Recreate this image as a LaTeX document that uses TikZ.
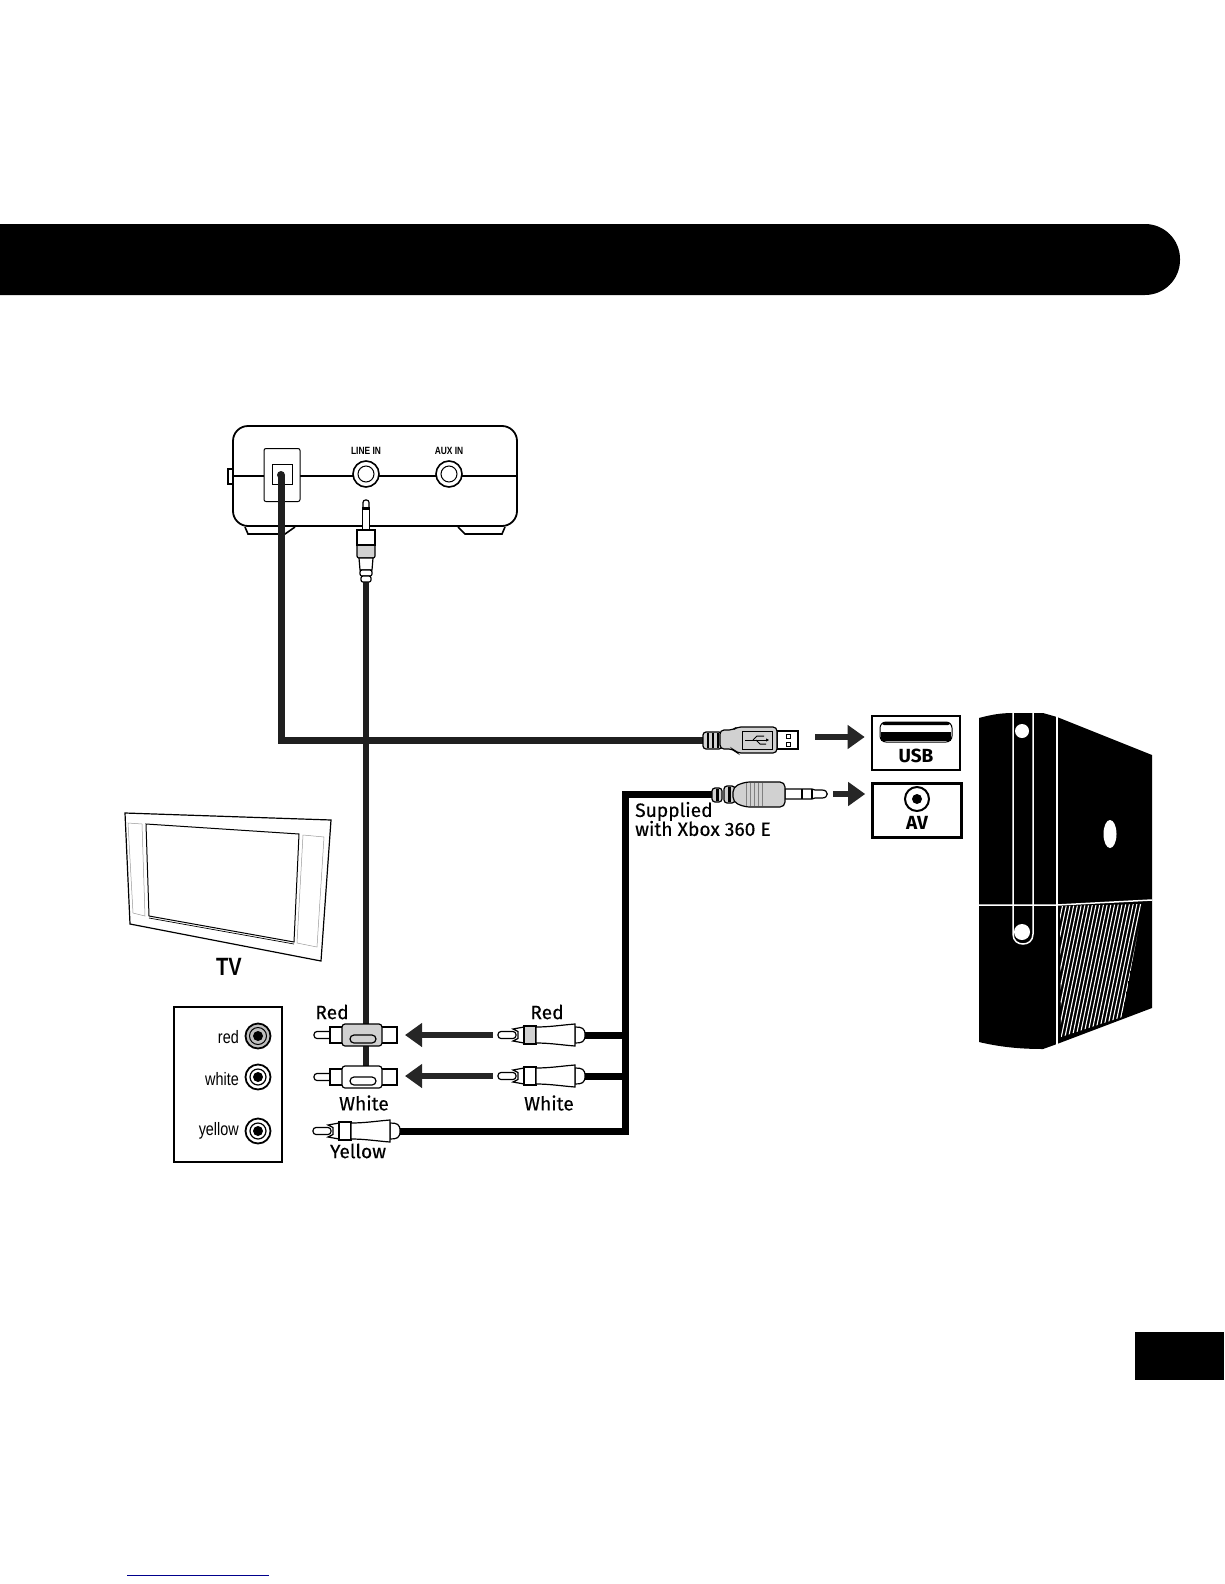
\documentclass[tikz,border=0pt]{standalone}
\usepackage{fontspec}
\setmainfont{Fira Sans}
\newfontfamily\narrowfont[FakeStretch=0.8]{Liberation Sans}
\usetikzlibrary{arrows.meta,positioning}
\definecolor{navyline}{RGB}{0,0,140}

\begin{document}
\begin{tikzpicture}[
    x=1pt, y=-1pt,
    every node/.style={inner sep=0pt},
    textlabel/.style={font=\fontsize{19.2}{21}\selectfont\addfontfeature{FakeBold=0.4}},
    portlabel/.style={font=\fontsize{19}{21}\selectfont\bfseries},
    tvlabel/.style={font=\narrowfont\fontsize{18}{20}\selectfont, anchor=east},
    devlabel/.style={font=\narrowfont\bfseries\fontsize{10.5}{12}\selectfont},
    portbox/.style={draw, line width=2.6pt, minimum width=88pt, minimum height=54pt},
    jackring/.style={circle, draw, line width=1.6pt, fill=white, minimum size=26pt},
    jackhole/.style={circle, draw, line width=1pt, fill=white, minimum size=16pt},
    socketring/.style={circle, draw, line width=1.8pt, fill=#1, minimum size=25pt},
    sockethole/.style={circle, draw, fill=white, line width=1.2pt, minimum size=16pt},
    socketdot/.style={circle, fill=black, minimum size=10pt},
    cable/.style={line width=7pt},
    darkcable/.style={line width=7pt, draw=black!88},
    thincable/.style={line width=6.5pt, draw=black!88},
    flow/.style={-{Triangle[length=17pt, width=23pt]}, line width=6.5pt, draw=black!85},
    part/.style={draw, line width=1.2pt, fill=white},
    gridline/.style={draw=black!40, line width=.5pt},
    rcaplug/.pic={
        \draw[part, rounded corners=3pt] (0,-3.5) rectangle (18,3.5);
        \draw[part] (15,-6) -- (26,-8) -- (26,8) -- (15,6) -- (20,3.5) -- (20,-3.5) -- cycle;
        \draw[part, fill=#1] (26,-9) rectangle (38,9);
        \draw[part] (77,-8) .. controls (84,-8) and (87,-7) .. (87,0) .. controls (87,7) and (84,8) .. (77,8) -- cycle;
        \draw[part] (38,-8) .. controls (52,-8) and (64,-10) .. (77,-11) -- (77,11) .. controls (64,10) and (52,8) .. (38,8) -- cycle;
    },
    coupler/.pic={
        \draw[part, rounded corners=3pt] (0,-3.5) rectangle (18,3.5);
        \draw[part] (16,-8) rectangle (30,8);
        \draw[part] (66,-8) rectangle (83,8);
        \draw[part, fill=#1, rounded corners=3pt] (28,-11) rectangle (68,11);
        \draw[part, fill=#1, rounded corners=4pt] (36,0) rectangle (62,8);
    }
]
\useasboundingbox (0,0) rectangle (1224,1584);
% title band and page tab
\fill[rounded corners=35pt] (0,224) -- (1180,224) -- (1180,295) -- (0,295);
\fill (1135,1332) rectangle (1224,1380);
\draw[navyline, line width=1pt] (127,1575) -- (269,1575);

% sound bar rear panel
\draw[line width=1.5pt] (228,469) rectangle (233,484);
\draw[line width=1.6pt] (245,527) -- (248,534) -- (285,534) -- (295,527);
\draw[line width=1.6pt] (458,527) -- (465,534) -- (502,534) -- (505,527);
\draw[line width=1.8pt, fill=white, rounded corners=15pt] (233,476) -- (233,426) -- (517,426) -- (517,526) -- (233,526) -- cycle;
\draw[line width=1.8pt] (233,476) -- (517,476);
\node[draw, fill=white, line width=1pt, rounded corners=2pt, minimum width=36pt, minimum height=53pt] (opticalbox) at (282,475) {};
\node[draw, fill=white, line width=1pt, minimum width=20pt, minimum height=20pt] (opticalport) at (282,474) {};
\node[jackring] (linein) at (366,474) {};
\node[jackhole] at (linein) {};
\node[jackring] (auxin) at (449,474) {};
\node[jackhole] at (auxin) {};
\node[devlabel, above=6pt of linein] (lineinlabel) {LINE IN};
\node[devlabel, above=5.5pt of auxin] (auxinlabel) {AUX IN};

% cables
\coordinate (usbsocket) at (281,475);
\coordinate (usbstrain) at (705,740);
\coordinate (minijackend) at (366,578);
\coordinate (couplerend) at (366,1066);
\coordinate (avstrain) at (714,794);
\coordinate (avcorner) at (625,1131);
\coordinate (yellowend) at (400,1131);
\coordinate (redend) at (584,1035);
\coordinate (whiteend) at (584,1076);
\fill[black!88] (usbsocket) circle[radius=4];
\draw[darkcable] (usbsocket) |- (usbstrain);
\draw[thincable] (minijackend) -- (couplerend);
\draw[cable] (avstrain) -| (avcorner) -- (yellowend);
\draw[cable] (redend) -- (redend -| avcorner);
\draw[cable] (whiteend) -- (whiteend -| avcorner);

% 3.5 mm plug into line in
\draw[part, rounded corners=2.5pt] (363,500) rectangle (369,512);
\draw[part] (362.5,508) rectangle (369.5,530);
\draw[line width=2pt] (362,509) -- (370,509);
\draw[part, fill=black!18, rounded corners=2pt] (357,530) rectangle (375,558);
\draw[part] (357,530) rectangle (375,545);
\draw[part] (359,558) -- (373,558) -- (372,570) -- (360,570) -- cycle;
\draw[part, rounded corners=2pt] (360,570) rectangle (372,576);
\draw[part, rounded corners=2pt] (361,576) rectangle (371,582);

% usb plug
\draw[part, fill=black!18, rounded corners=3pt] (703,732) rectangle (722,749);
\foreach \x in {708,713,718} \draw[line width=1.2pt] (\x,733) -- (\x,748);
\draw[part] (777,731) rectangle (798,749);
\draw[line width=.8pt] (786,734) rectangle (790,738);
\draw[line width=.8pt] (786,742) rectangle (790,746);
\draw[part, fill=black!18, rounded corners=4pt] (720,730) -- (733,730) -- (737,727) -- (777,727) -- (777,753) -- (737,753) -- (733,749) -- (720,749) -- cycle;
\draw[line width=.8pt] (742,731) rectangle (772,749);
\draw[line width=1pt, -{Triangle[length=3pt, width=3pt]}] (745,740) -- (769,740);
\draw[line width=1pt] (753,740) -- (757,736) -- (764,736);
\draw[line width=1pt] (756,740) -- (760,744) -- (766,744);

% av plug
\draw[part, fill=black!18, rounded corners=3pt] (712,788) rectangle (722,802);
\draw[part, fill=black!18, rounded corners=3pt] (724,786) rectangle (735,803);
\draw[line width=3pt] (717,789) -- (717,801);
\draw[line width=3pt] (729,787) -- (729,802);
\draw[part] (785,789) -- (812,789) -- (815,790) -- (822,790) .. controls (829,790) and (829,798) .. (822,798) -- (815,798) -- (812,799) -- (785,799) -- cycle;
\draw[line width=1.2pt] (802,789) -- (802,799);
\draw[line width=1.2pt] (812,789) -- (812,799);
\draw[part, fill=black!18, rounded corners=5pt] (733,787) -- (745,782) -- (785,782) -- (785,807) -- (745,807) -- (733,802) -- cycle;
\foreach \x in {746,750,754,758,762} \draw[line width=.5pt, black!50] (\x,783) -- (\x,806);

% arrows to the console ports
\node[portbox] (usbbox) at (916,743) {};
\node[portbox, minimum width=89pt] (avbox) at (917,810.5) {};
\coordinate (usbtail) at (815,737);
\coordinate (avtail) at (833,794);
\coordinate (redtail) at (493,1035);
\coordinate (whitetail) at (493,1076);
\draw[flow, shorten >=6pt] (usbtail) -- (usbtail -| usbbox.west);
\draw[flow, shorten >=6pt] (avtail) -- (avtail -| avbox.west);
\draw[line width=1pt, draw=black, rounded corners=6pt] (880,722) rectangle (952,742);
\fill[rounded corners=2pt] (882,722) rectangle (950,725);
\fill (881,732) rectangle (951,741);
\node[portlabel] (usblabel) at (916,756) {USB};
\node[circle, draw, line width=2pt, minimum size=24pt] (avjack) at (917,799) {};
\node[socketdot] at (avjack) {};
\node[portlabel] (avlabel) at (917,823) {AV};
\node[textlabel, anchor=west, align=left] (supplied) at (635,819) {Supplied\\[-2pt]with Xbox 360 E};

% console
\fill (979,718) .. controls (990,715) and (1000,713) .. (1013,713) -- (1043,713) -- (1057,717) -- (1152,755) -- (1152,1008) -- (1057,1044) -- (1043,1049) .. controls (1020,1049) and (1000,1047) .. (979,1042) -- cycle;
\begin{scope}
  \clip (1060,906) -- (1143,904) -- (1122,1017) -- (1061,1037) -- cycle;
  \foreach \x in {1060,1063.7,...,1190} \draw[white, line width=1.1pt] (\x,900) -- (\x-30,1045);
\end{scope}
\draw[white, line width=1.5pt] (1057,713) -- (1057,1046);
\draw[white, line width=1.5pt] (979,905) -- (1057,905) -- (1152,900);
\draw[white, line width=1.5pt] (1013,713) -- (1013,934) .. controls (1013,941) and (1018,944) .. (1023,944) .. controls (1028,944) and (1033,941) .. (1033,934) -- (1033,713);
\fill[white] (1022,731) circle[radius=7];
\fill[white] (1022,932) circle[radius=8];
\fill[white] (1110,834) ellipse[x radius=6.5, y radius=14];

% tv
\draw[line width=1.2pt, fill=white] (125,813) -- (331,820) -- (321,961) -- (130,924) -- cycle;
\draw[line width=1pt] (146,824) -- (299,834) -- (294,942) -- (149,916) -- cycle;
\draw[line width=.7pt] (149,918) -- (294,944);
\draw[gridline] (128,823) -- (142,824) -- (145,916) -- (133,913) -- cycle;
\draw[gridline] (303,835) -- (324,837) -- (317,947) -- (297,943) -- cycle;
\node[font=\narrowfont\bfseries\fontsize{25}{27}\selectfont] (tvtitle) at (229,967) {TV};

% tv input panel
\node[draw, line width=1.5pt, minimum width=108pt, minimum height=155pt] (panel) at (228,1084.5) {};
\node[socketring=black!25] (redjack) at (258,1036) {};
\node[circle, draw, fill=black!25, line width=1pt, minimum size=17pt] at (redjack) {};
\node[socketdot] at (redjack) {};
\node[socketring=white] (whitejack) at (258,1077) {};
\node[sockethole] at (whitejack) {};
\node[socketdot] at (whitejack) {};
\node[socketring=white] (yellowjack) at (258,1131) {};
\node[sockethole] at (yellowjack) {};
\node[socketdot] at (yellowjack) {};
\node[tvlabel] (redtext) at (239,1037) {red};
\node[tvlabel] (whitetext) at (239,1079) {white};
\node[tvlabel] (yellowtext) at (239,1131) {yellow};

% rca plugs and couplers
\pic at (314,1035) {coupler=black!18};
\pic at (314,1077) {coupler=white};
\pic at (313,1131) {rcaplug=white};
\pic at (498,1035) {rcaplug=black!18};
\pic at (498,1076) {rcaplug=white};
\draw[flow] (redtail) -- (405,1035);
\draw[flow] (whitetail) -- (405,1076);

\node[textlabel] (redleft) at (332,1012) {Red};
\node[textlabel] (whiteleft) at (364,1103) {White};
\node[textlabel] (yellowleft) at (358,1151) {Yellow};
\node[textlabel] (redright) at (547,1012) {Red};
\node[textlabel] (whiteright) at (549,1103) {White};
\end{tikzpicture}
\end{document}
